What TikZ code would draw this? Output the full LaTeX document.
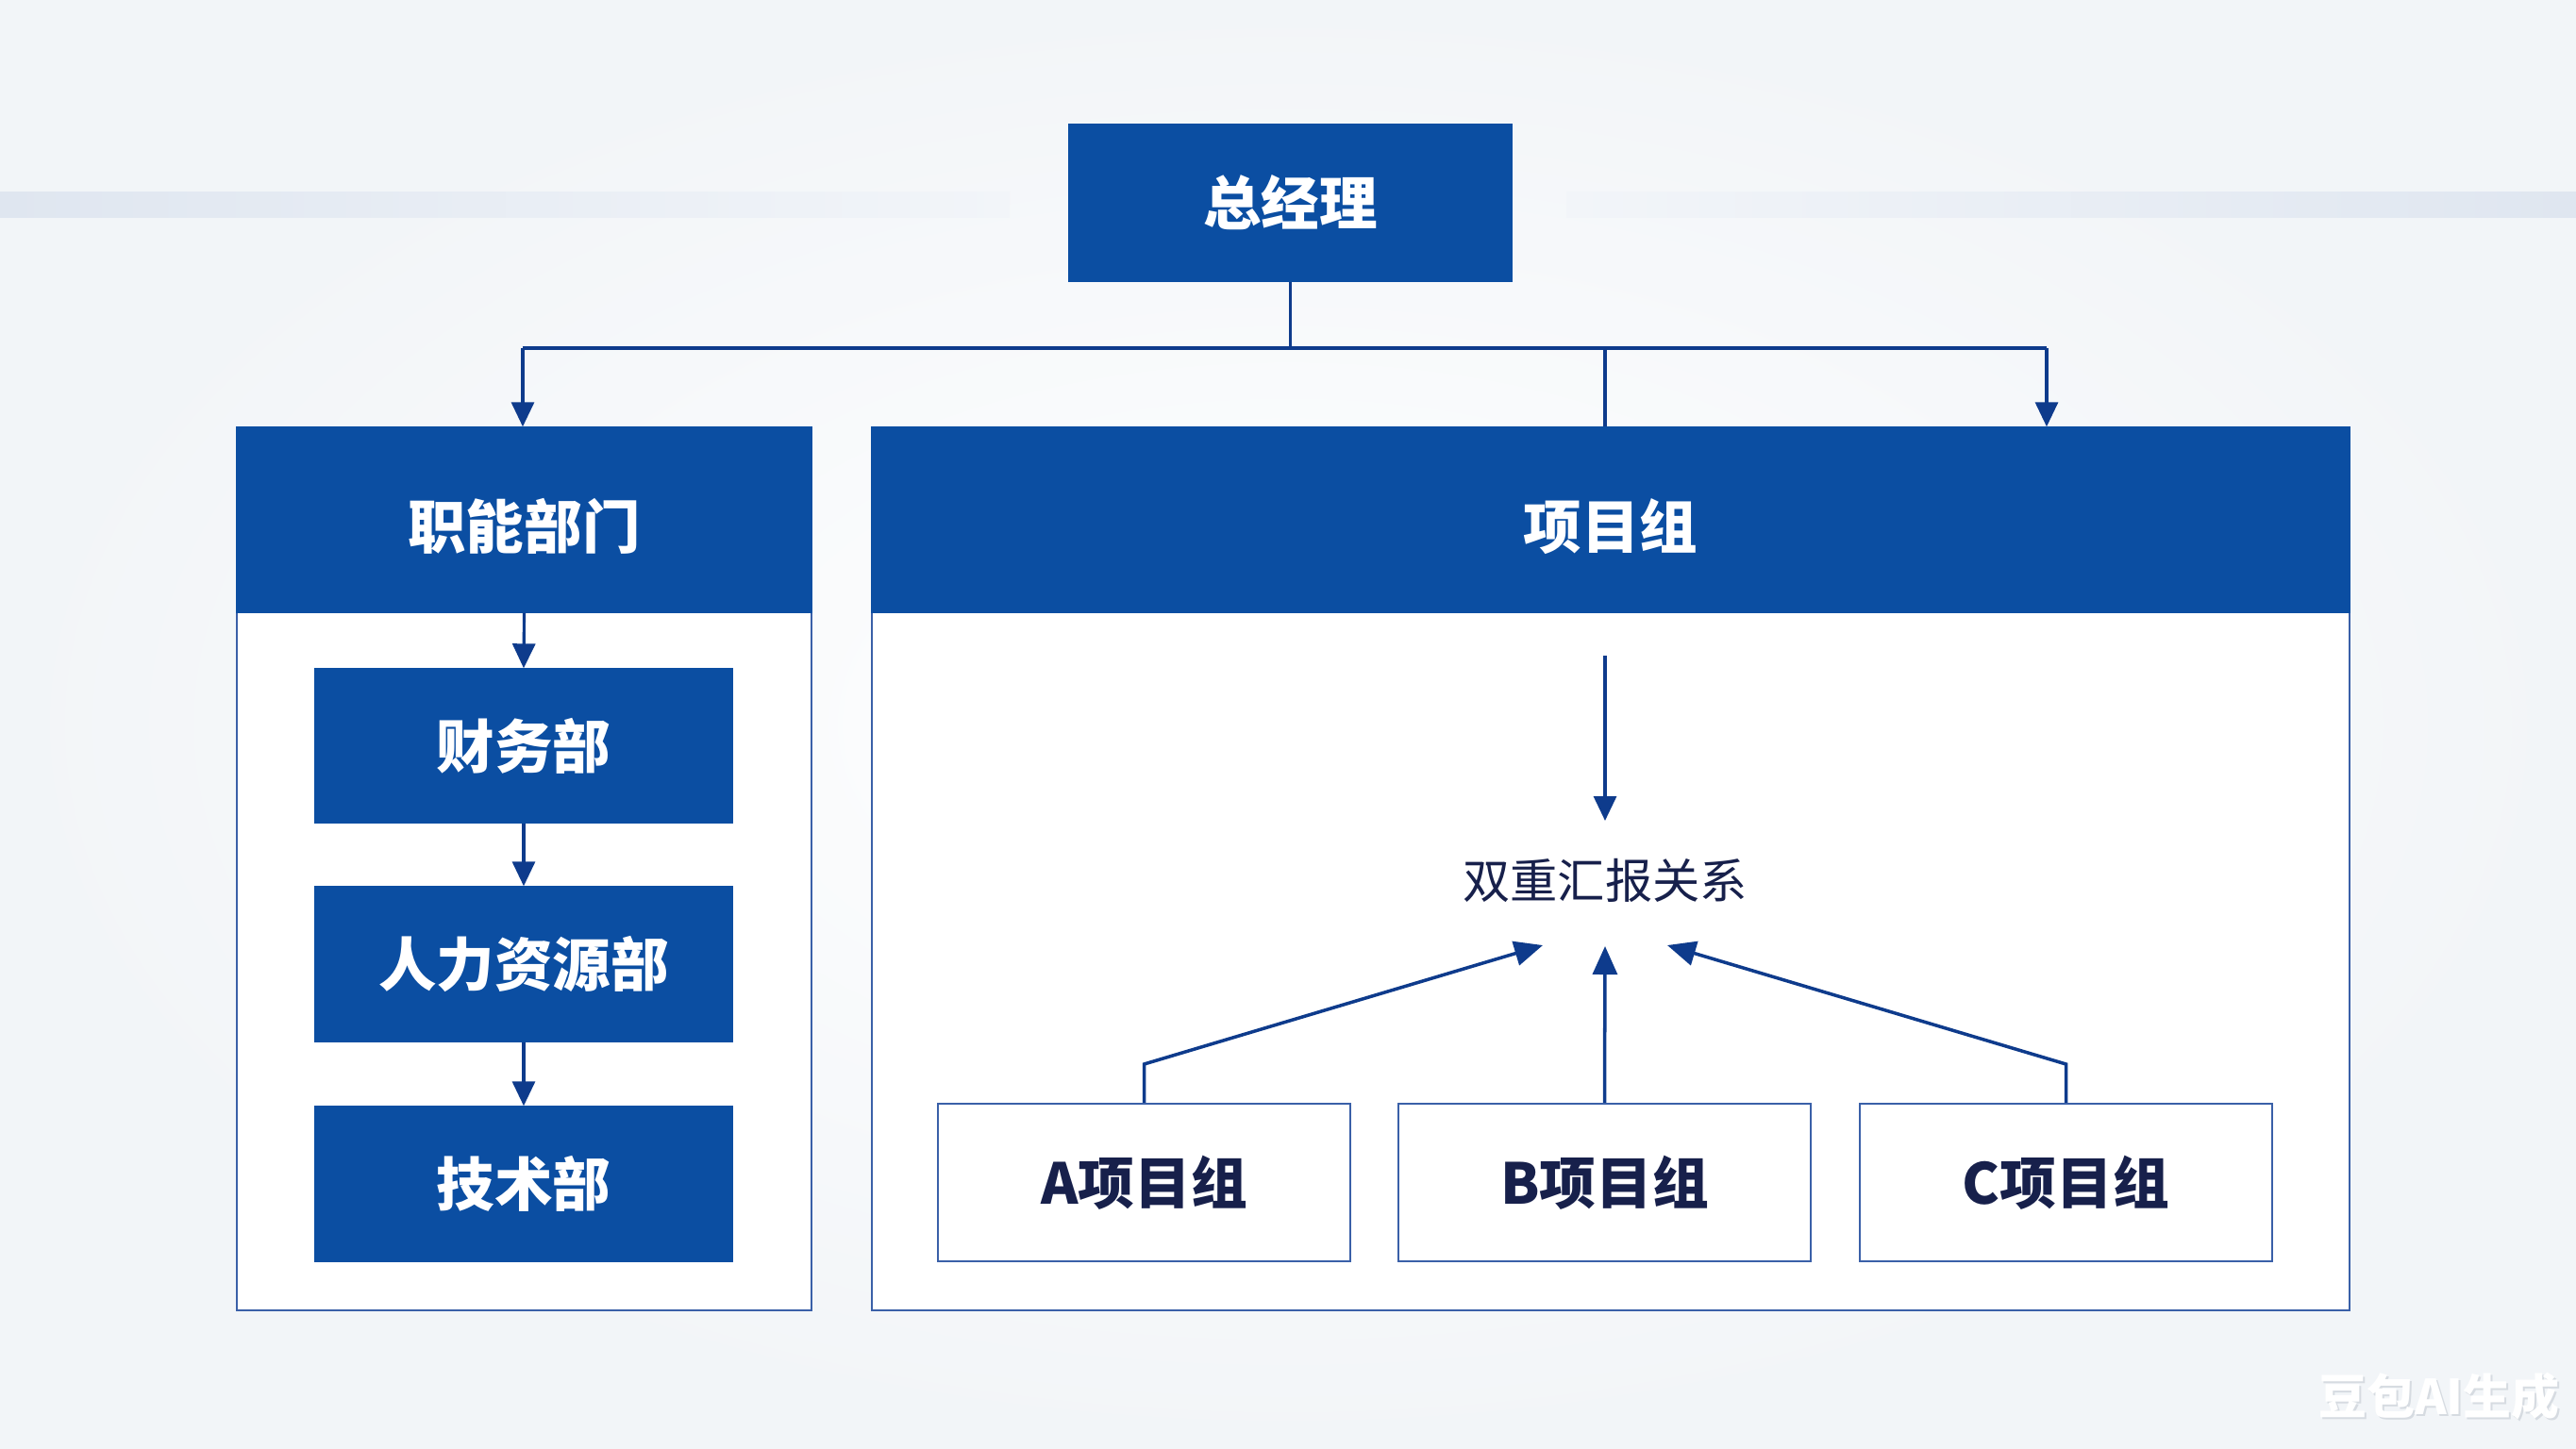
\documentclass[tikz,border=0pt]{standalone}
\usepackage{fontspec}
\setmainfont{Noto Sans CJK SC}
\usetikzlibrary{arrows.meta,shadings}
\definecolor{mainblue}{HTML}{0B4EA2}
\definecolor{linkblue}{HTML}{0E3B8C}
\definecolor{frameblue}{HTML}{3A60A8}
\definecolor{navytext}{HTML}{17204B}
\definecolor{bgedge}{HTML}{F2F5F8}
\definecolor{bandl}{HTML}{DFE6F0}
\definecolor{bandr}{HTML}{F2F5F9}
\definecolor{wmshadow}{HTML}{D6DBE1}
\tikzset{
  bluebox/.style={draw=mainblue, fill=mainblue, text=white, font=\fontsize{17.5}{20}\selectfont\bfseries, inner sep=0pt},
  headtext/.style={text=white, font=\fontsize{17.5}{20}\selectfont\bfseries, inner sep=0pt},
  framebox/.style={draw=frameblue, line width=0.7pt, fill=white},
  groupbox/.style={draw=frameblue, line width=0.7pt, fill=white, text=navytext, font=\fontsize{17}{20}\selectfont\bfseries, inner sep=0pt, minimum width=4.37cm, minimum height=1.67cm},
  link/.style={draw=linkblue, line width=0.9pt},
  arr/.style={link, -{Triangle[length=0.26cm,width=0.24cm]}},
  uparr/.style={link, line width=1pt, -{Triangle[length=0.3cm,width=0.26cm]}},
}
\begin{document}
\begin{tikzpicture}
% background
\shade[inner color=white, outer color=bgedge] (0,0) rectangle (27.3,-15.35);
\useasboundingbox (0,0) rectangle (27.3,-15.35);
% decorative band
\shade[left color=bandl, right color=bandr] (0,-2.03) rectangle (10.7,-2.30);
\shade[left color=bandr, right color=bandl] (16.6,-2.03) rectangle (27.3,-2.30);

% outer frames
\draw[framebox] (2.51,-4.53) rectangle (8.60,-13.89);
\draw[framebox] (9.24,-4.53) rectangle (24.90,-13.89);

% top node
\node[bluebox, minimum width=4.69cm, minimum height=1.66cm] (gm) at (13.675,-2.15) {总经理};

% headers
\node[bluebox, minimum width=6.09cm, minimum height=1.96cm] (func) at (5.555,-5.51) {};
\node[headtext] (functext) at ([yshift=-0.07cm]func.center) {职能部门};
\node[bluebox, minimum width=15.66cm, minimum height=1.96cm] (proj) at (17.07,-5.51) {};
\node[headtext] (projtext) at ([yshift=-0.07cm]proj.center) {项目组};

% sub departments
\node[bluebox, minimum width=4.42cm, minimum height=1.63cm] (fin) at (5.55,-7.905) {财务部};
\node[bluebox, minimum width=4.42cm, minimum height=1.64cm] (hr) at (5.55,-10.22) {人力资源部};
\node[bluebox, minimum width=4.42cm, minimum height=1.64cm] (tech) at (5.55,-12.55) {技术部};

% project groups
\node[groupbox] (ga) at (12.125,-12.535) {A项目组};
\node[groupbox] (gb) at (17.005,-12.535) {B项目组};
\node[groupbox] (gc) at (21.895,-12.535) {C项目组};

% dual reporting label
\node[text=navytext, font=\fontsize{14.3}{17}\selectfont, inner sep=0pt] (dual) at (17.01,-9.33) {双重汇报关系};

% coordinates
\coordinate (j) at (13.675,-3.69);
\coordinate (jl) at (5.54,-3.69);
\coordinate (jm) at (17.01,-3.69);
\coordinate (jr) at (21.69,-3.69);
\coordinate (dtop) at (17.01,-6.95);
\coordinate (dbot) at (17.01,-8.70);
\coordinate (tipa) at (16.35,-10.02);
\coordinate (tipb) at (17.01,-10.03);
\coordinate (tipc) at (17.67,-10.02);
\coordinate (ka) at (12.125,-11.28);
\coordinate (kc) at (21.895,-11.28);

% top connectors
\draw[link] (gm.south) -- (j);
\draw[link] (jl) -- (jr);
\draw[arr] (jl) -- (func.north -| jl);
\draw[arr] (jr) -- (proj.north -| jr);
\draw[link] (jm) -- (proj.north -| jm);

% functional chain
\draw[arr] (func.south) -- (fin.north);
\draw[arr] (fin.south) -- (hr.north);
\draw[arr] (hr.south) -- (tech.north);

% project area
\draw[arr] (dtop) -- (dbot);
\draw[uparr] (gb.north) -- (tipb);
\draw[uparr] (ga.north) -- (ka) -- (tipa);
\draw[uparr] (gc.north) -- (kc) -- (tipc);

% watermark
\node[text=wmshadow, font=\fontsize{14.5}{17}\selectfont\bfseries, inner sep=0pt] (wm2) at (25.87,-14.82) {豆包AI生成};
\node[text=white, font=\fontsize{14.5}{17}\selectfont\bfseries, inner sep=0pt] (wm) at (25.85,-14.80) {豆包AI生成};
\end{tikzpicture}
\end{document}
